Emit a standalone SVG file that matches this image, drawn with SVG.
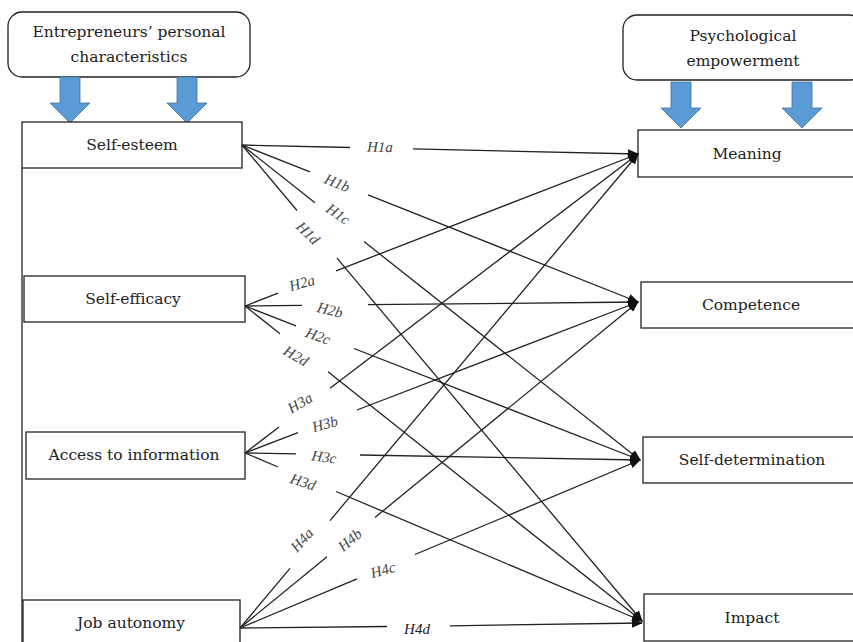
<svg xmlns="http://www.w3.org/2000/svg" width="853" height="642" viewBox="0 0 853 642">
<style>
.box{fill:#fff;stroke:#222;stroke-width:1.3}
.t{font-family:"DejaVu Serif","Liberation Serif",serif;font-size:15.5px;fill:#222;text-anchor:middle;dominant-baseline:central}
.lbl{font-family:"Liberation Serif",serif;font-style:italic;font-size:15px;fill:#444;text-anchor:middle;dominant-baseline:central}
.ln{stroke:#222;stroke-width:1.3;fill:none}
.blue{fill:#5b9bd5;stroke:#41719c;stroke-width:0.8}
</style>
<defs>
<marker id="ah" markerUnits="userSpaceOnUse" markerWidth="11" markerHeight="9" refX="10" refY="4.5" orient="auto">
<path d="M0,0 L11,4.5 L0,9 z" fill="#111"/>
</marker>
<path id="barrow" d="M-10,0 H10 V26 H20 L0,46 L-20,26 H-10 Z"/>
</defs>

<g id="epc">
<rect class="box" x="8" y="12" width="242" height="65" rx="14"/>
<text class="t" x="129" y="32">Entrepreneurs’ personal</text>
<text class="t" x="129" y="57">characteristics</text>
<use href="#barrow" class="blue" x="70" y="77"/>
<use href="#barrow" class="blue" x="187" y="77"/>
</g>
<g id="pe">
<rect class="box" x="623" y="15" width="240" height="65" rx="14"/>
<text class="t" x="743" y="36">Psychological</text>
<text class="t" x="743" y="61">empowerment</text>
<use href="#barrow" class="blue" x="681" y="82"/>
<use href="#barrow" class="blue" x="802" y="82"/>
</g>

<line class="ln" x1="22" y1="168" x2="22" y2="642"/>

<g id="self-esteem"><rect class="box" x="22" y="122" width="220" height="46"/><text class="t" x="132" y="145">Self-esteem</text></g>
<g id="self-efficacy"><rect class="box" x="24" y="276" width="221" height="46"/><text class="t" x="133" y="299">Self-efficacy</text></g>
<g id="access"><rect class="box" x="26" y="432" width="219" height="47"/><text class="t" x="134" y="455">Access to information</text></g>
<g id="job-autonomy"><rect class="box" x="23" y="600" width="217" height="50"/><text class="t" x="131" y="623">Job autonomy</text></g>

<g id="meaning"><rect class="box" x="638" y="130" width="220" height="47"/><text class="t" x="747" y="154">Meaning</text></g>
<g id="competence"><rect class="box" x="641" y="282" width="217" height="46"/><text class="t" x="751" y="305">Competence</text></g>
<g id="self-determination"><rect class="box" x="643" y="437" width="215" height="46"/><text class="t" x="752" y="460">Self-determination</text></g>
<g id="impact"><rect class="box" x="644" y="594" width="214" height="47"/><text class="t" x="752" y="618">Impact</text></g>

<g id="connectors">
<line class="ln" x1="242" y1="145" x2="350" y2="147.5"/><line class="ln" x1="413" y1="148.9" x2="638" y2="154" marker-end="url(#ah)"/>
<line class="ln" x1="242" y1="145" x2="310" y2="171.9"/><line class="ln" x1="368" y1="194.9" x2="638" y2="302" marker-end="url(#ah)"/>
<line class="ln" x1="242" y1="145" x2="315" y2="202.8"/><line class="ln" x1="364" y1="241.5" x2="640" y2="460" marker-end="url(#ah)"/>
<line class="ln" x1="242" y1="145" x2="297" y2="210.5"/><line class="ln" x1="337" y1="258.1" x2="642" y2="621" marker-end="url(#ah)"/>

<line class="ln" x1="245" y1="306" x2="278" y2="293.2"/><line class="ln" x1="336" y1="270.8" x2="638" y2="154" marker-end="url(#ah)"/>
<line class="ln" x1="245" y1="306" x2="302" y2="305.4"/><line class="ln" x1="368" y1="304.7" x2="638" y2="302" marker-end="url(#ah)"/>
<line class="ln" x1="245" y1="306" x2="296" y2="325.9"/><line class="ln" x1="354" y1="348.5" x2="640" y2="460" marker-end="url(#ah)"/>
<line class="ln" x1="245" y1="306" x2="280" y2="333.8"/><line class="ln" x1="328" y1="371.8" x2="642" y2="621" marker-end="url(#ah)"/>

<line class="ln" x1="245" y1="453" x2="279" y2="427.1"/><line class="ln" x1="330" y1="388.3" x2="638" y2="154" marker-end="url(#ah)"/>
<line class="ln" x1="245" y1="453" x2="298" y2="432.6"/><line class="ln" x1="357" y1="410" x2="638" y2="302" marker-end="url(#ah)"/>
<line class="ln" x1="245" y1="453" x2="296" y2="453.9"/><line class="ln" x1="360" y1="455" x2="640" y2="460" marker-end="url(#ah)"/>
<line class="ln" x1="245" y1="453" x2="278" y2="467"/><line class="ln" x1="336" y1="491.5" x2="642" y2="621" marker-end="url(#ah)"/>

<line class="ln" x1="240" y1="628" x2="290" y2="568.3"/><line class="ln" x1="330" y1="520.6" x2="638" y2="154" marker-end="url(#ah)"/>
<line class="ln" x1="240" y1="628" x2="327" y2="556.7"/><line class="ln" x1="375" y1="517.4" x2="638" y2="302" marker-end="url(#ah)"/>
<line class="ln" x1="240" y1="628" x2="357" y2="578.9"/><line class="ln" x1="415" y1="554.5" x2="640" y2="460" marker-end="url(#ah)"/>
<line class="ln" x1="240" y1="628" x2="387" y2="626.5"/><line class="ln" x1="450" y1="625.8" x2="642" y2="623" marker-end="url(#ah)"/>

<text class="lbl" transform="translate(380,147) rotate(1)">H1a</text>
<text class="lbl" transform="translate(337,183) rotate(22)">H1b</text>
<text class="lbl" transform="translate(338,214) rotate(35)">H1c</text>
<text class="lbl" transform="translate(308,233) rotate(45)">H1d</text>
<text class="lbl" transform="translate(302,283) rotate(-15)">H2a</text>
<text class="lbl" transform="translate(330,310) rotate(14)">H2b</text>
<text class="lbl" transform="translate(318,336) rotate(20)">H2c</text>
<text class="lbl" transform="translate(296,356) rotate(30)">H2d</text>
<text class="lbl" transform="translate(300,403) rotate(-30)">H3a</text>
<text class="lbl" transform="translate(325,424) rotate(-15)">H3b</text>
<text class="lbl" transform="translate(324,457) rotate(8)">H3c</text>
<text class="lbl" transform="translate(303,482) rotate(18)">H3d</text>
<text class="lbl" transform="translate(302,540) rotate(-48)">H4a</text>
<text class="lbl" transform="translate(350,540) rotate(-40)">H4b</text>
<text class="lbl" transform="translate(383,570) rotate(-16)">H4c</text>
<text class="lbl" style="fill:#222" transform="translate(417,629)">H4d</text>
</g>
</svg>
